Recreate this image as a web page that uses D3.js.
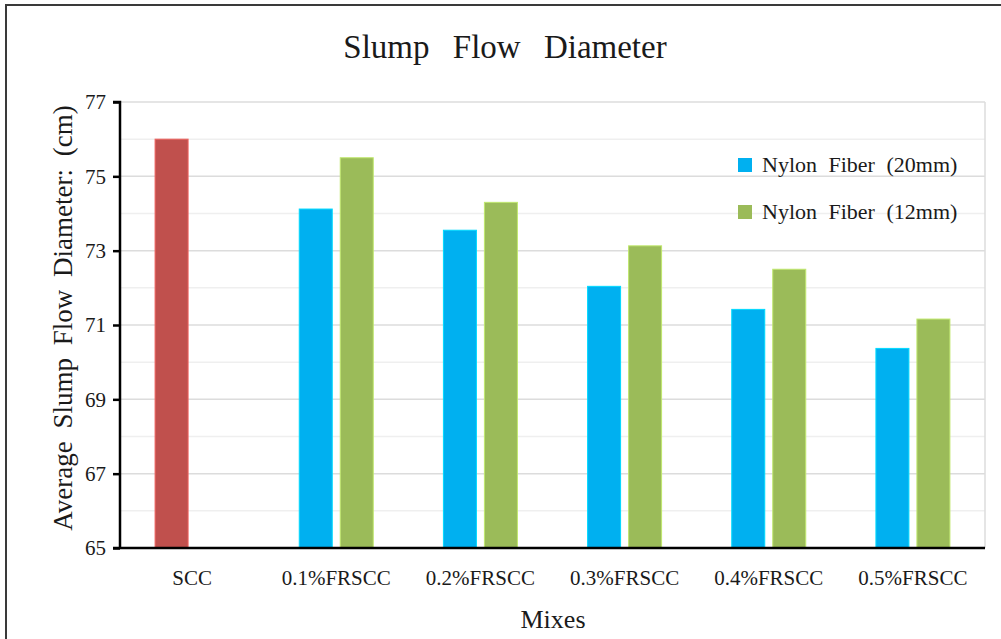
<!DOCTYPE html>
<html>
<head>
<meta charset="utf-8">
<script src="https://cdn.jsdelivr.net/npm/d3@7/dist/d3.min.js"></script>
<style>
  html, body { margin: 0; padding: 0; background: #fff; }
  svg { display: block; }
  text { font-family: "Liberation Serif", "Times New Roman", serif; fill: #1a1a1a; }
</style>
</head>
<body>
<svg id="chart" width="1001" height="639"></svg>
<script>
// Mixes along the x axis
const categories = ["SCC", "0.1%FRSCC", "0.2%FRSCC", "0.3%FRSCC", "0.4%FRSCC", "0.5%FRSCC"];
// Average slump flow diameter (cm) per mix
const sccValue = [76.0, null, null, null, null, null];
const nylon20 = [null, 74.12, 73.55, 72.04, 71.42, 70.37];
const nylon12 = [null, 75.50, 74.30, 73.13, 72.50, 71.16];
const seriesNames = ["Nylon Fiber (20mm)", "Nylon Fiber (12mm)"];
const yTicks = [65, 67, 69, 71, 73, 75, 77];
const yMinor = [66, 68, 70, 72, 74, 76];

const colors = { scc: "#C0504D", n20: "#00B0F0", n12: "#9BBB59" };
const serif = "Liberation Serif, Times New Roman, serif";

const svg = d3.select("#chart");
const plot = { left: 120, right: 985, top: 102, bottom: 548 };

// outer frame
svg.append("rect")
  .attr("x", 6).attr("y", 5).attr("width", 1010).attr("height", 650)
  .attr("fill", "none").attr("stroke", "#3a3a3a").attr("stroke-width", 2);

const x = d3.scaleBand().domain(categories).range([plot.left, plot.right]).padding(0);
const bw = x.bandwidth();
const xSub = d3.scaleBand().domain(["n20", "n12"])
  .range([bw / 2 - 37, bw / 2 + 37]).paddingInner(0.195);
const y = d3.scaleLinear().domain([65, 77]).range([plot.bottom, plot.top]);

// gridlines
svg.append("g").selectAll("line").data(yMinor).join("line")
  .attr("x1", plot.left).attr("x2", plot.right)
  .attr("y1", d => y(d)).attr("y2", d => y(d))
  .attr("stroke", "#efefef").attr("stroke-width", 1.5);
svg.append("g").selectAll("line").data(yTicks.slice(1)).join("line")
  .attr("x1", plot.left).attr("x2", plot.right)
  .attr("y1", d => y(d)).attr("y2", d => y(d))
  .attr("stroke", "#dcdcdc").attr("stroke-width", 1.5);
// right edge of plot area
svg.append("line")
  .attr("x1", plot.right).attr("x2", plot.right)
  .attr("y1", plot.top).attr("y2", plot.bottom)
  .attr("stroke", "#dcdcdc").attr("stroke-width", 1.5);

// bars
const bars = [];
categories.forEach((c, i) => {
  if (sccValue[i] != null) bars.push({ c, slot: "n20", v: sccValue[i], color: colors.scc });
  if (nylon20[i] != null) bars.push({ c, slot: "n20", v: nylon20[i], color: colors.n20 });
  if (nylon12[i] != null) bars.push({ c, slot: "n12", v: nylon12[i], color: colors.n12 });
});
svg.append("g").selectAll("rect").data(bars).join("rect")
  .attr("x", d => x(d.c) + xSub(d.slot))
  .attr("width", xSub.bandwidth())
  .attr("y", d => y(d.v))
  .attr("height", d => y(65) - y(d.v))
  .attr("fill", d => d.color)
  .attr("stroke", d => d3.color(d.color).brighter(0.6))
  .attr("stroke-width", 1);

// y axis
const yAxis = d3.axisLeft(y).tickValues(yTicks).tickSize(7).tickPadding(7).tickFormat(d3.format("d"));
const gy = svg.append("g").attr("transform", `translate(${plot.left},0)`).call(yAxis)
  .attr("font-family", serif).attr("font-size", 21);
gy.select(".domain").attr("stroke", "#000").attr("stroke-width", 2.5).attr("d", `M-7,${plot.top}H0V${plot.bottom}`);
gy.selectAll(".tick line").attr("stroke", "#000").attr("stroke-width", 2.5);
gy.selectAll(".tick text").attr("fill", "#1a1a1a");

// x axis
const xAxis = d3.axisBottom(x).tickSize(0).tickPadding(22);
const gx = svg.append("g").attr("transform", `translate(0,${plot.bottom})`).call(xAxis)
  .attr("font-family", serif).attr("font-size", 21);
gx.select(".domain").attr("stroke", "#000").attr("stroke-width", 2.5).attr("d", `M${plot.left - 7},0H${plot.right}`);
gx.selectAll(".tick text").attr("fill", "#1a1a1a");

// title
svg.append("text")
  .attr("x", 505).attr("y", 58).attr("text-anchor", "middle")
  .style("font-size", "33px").style("word-spacing", "15px")
  .text("Slump Flow Diameter");

// axis titles
svg.append("text")
  .attr("transform", "translate(72,318) rotate(-90)")
  .attr("text-anchor", "middle")
  .style("font-size", "27px").style("word-spacing", "6px")
  .text("Average Slump Flow Diameter: (cm)");
svg.append("text")
  .attr("x", 553).attr("y", 628).attr("text-anchor", "middle")
  .style("font-size", "26px")
  .text("Mixes");

// legend
const legend = svg.append("g").attr("transform", "translate(738,158)");
const legendItems = [
  { name: seriesNames[0], color: colors.n20 },
  { name: seriesNames[1], color: colors.n12 }
];
const li = legend.selectAll("g").data(legendItems).join("g")
  .attr("transform", (d, i) => `translate(0,${i * 47})`);
li.append("rect").attr("width", 14).attr("height", 14).attr("fill", d => d.color);
li.append("text").attr("x", 24).attr("y", 14)
  .style("font-size", "22px").style("word-spacing", "6px")
  .text(d => d.name);
</script>
</body>
</html>
